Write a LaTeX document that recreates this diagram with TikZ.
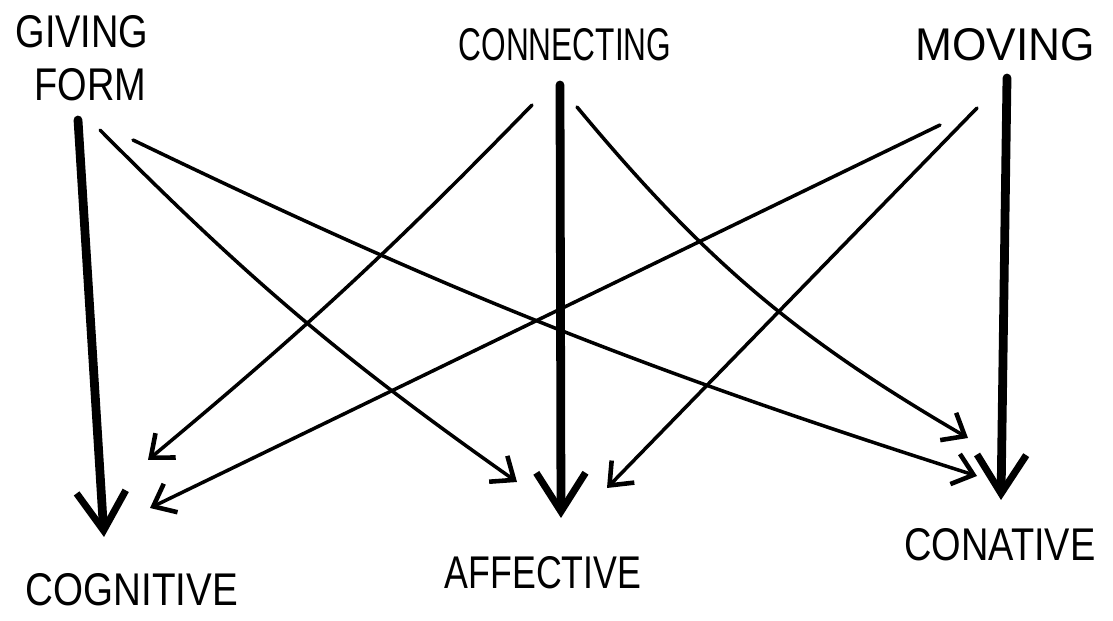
\documentclass[tikz,border=0pt]{standalone}
\usepackage{fontspec}
\setmainfont{Liberation Sans}
\usetikzlibrary{arrows.meta}

\begin{document}
\begin{tikzpicture}[
    x=0.02cm, y=-0.02cm,
    label/.style={inner sep=0pt, font=\fontsize{18}{20}\selectfont, yscale=1.45, transform shape},
    strong/.style={line width=5pt, line cap=round, -{Straight Barb[length=22pt, width=28pt, line width=4pt]}},
    link/.style={line width=2pt, line cap=round, -{Straight Barb[length=11pt, width=18pt, line width=2.6pt]}}
]
\useasboundingbox (0,0) rectangle (1113,621);

% ---- nodes ----
\node[label, align=left, xscale=1.2] (gf) at (82,58) {GIVING\\[1pt]\hspace*{9pt}FORM};
\node[label] (conn) at (565,45) {CONNECTING};
\node[label, xscale=1.4] (mov) at (1005,45) {MOVING};
\node[label, xscale=1.22] (cog) at (132,590) {COGNITIVE};
\node[label, xscale=1.13] (aff) at (543,573) {AFFECTIVE};
\node[label, xscale=1.2] (conat) at (1000,545) {CONATIVE};

% ---- edges ----

\draw[strong] ([shift={(-4,62)}]gf.center) -- ([shift={(-28,-53)}]cog.center);
\draw[link] ([shift={(18,72)}]gf.center) to[bend right=5] ([shift={(-26,-91)}]aff.center);
\draw[link] ([shift={(51,82)}]gf.center) to[bend right=4] ([shift={(-23,-69)}]conat.center);

\draw[strong] ([shift={(-5,40)}]conn.center) -- ([shift={(18,-55)}]aff.center);
\draw[link] ([shift={(-33,60)}]conn.center) to[bend left=3] ([shift={(16,-130)}]cog.center);
\draw[link] ([shift={(12,62)}]conn.center) to[bend right=10] ([shift={(-32,-107)}]conat.center);

\draw[strong] ([shift={(2,33)}]mov.center) -- ([shift={(1,-45)}]conat.center);
\draw[link] ([shift={(-65,80)}]mov.center) -- ([shift={(18,-82)}]cog.center);
\draw[link] ([shift={(-28,63)}]mov.center) -- ([shift={(64,-85)}]aff.center);

\end{tikzpicture}
\end{document}
